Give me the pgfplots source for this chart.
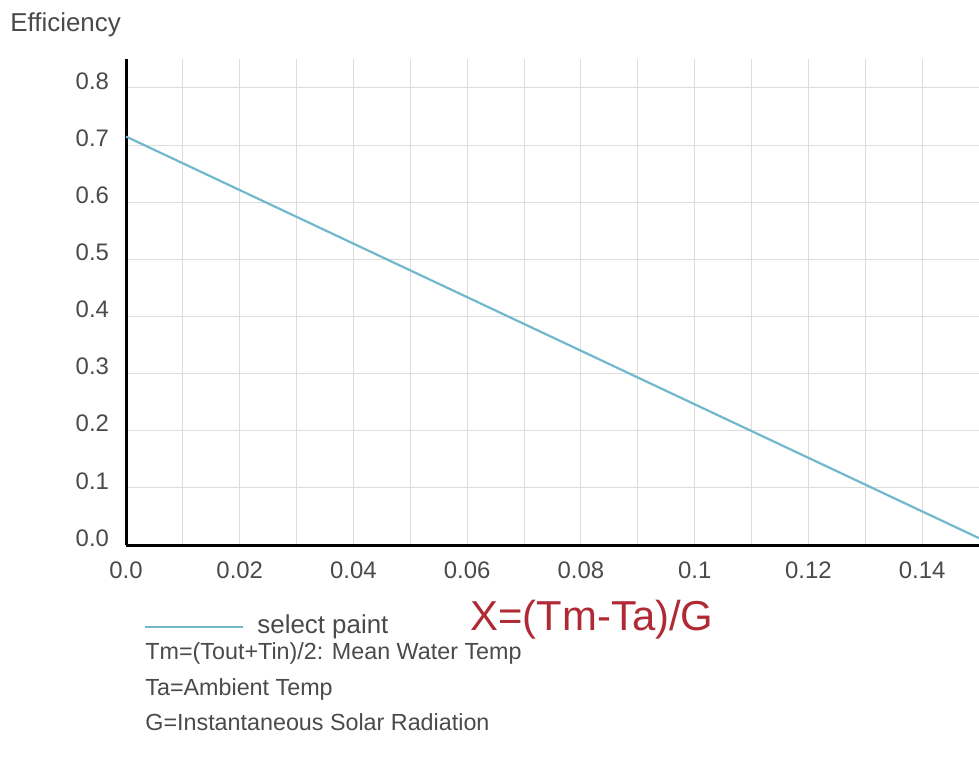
\documentclass[border=0pt]{standalone}
\usepackage{pgfplots}
\pgfplotsset{compat=1.18}
\usepackage{fontspec}
\setmainfont{Liberation Sans}
\definecolor{linec}{HTML}{72B8CC}
\definecolor{txt}{HTML}{4A4A4A}
\definecolor{redt}{HTML}{B02A35}
\definecolor{gridc}{HTML}{DDDDDD}
\begin{document}
\begin{tikzpicture}[x=1bp,y=1bp]
\path[use as bounding box] (-63,-107.5) rectangle (426.5,272.5);
\begin{axis}[
  at={(0,0)}, anchor=south west,
  scale only axis,
  width=426.5bp, height=242.8bp,
  xmin=0, xmax=0.15, ymin=0, ymax=0.85,
  axis x line*=bottom, axis y line*=left,
  axis line style={line width=1.5bp, black, -},
  xtick={0,0.02,0.04,0.06,0.08,0.1,0.12,0.14},
  xticklabels={0.0,0.02,0.04,0.06,0.08,0.1,0.12,0.14},
  minor xtick={0.01,0.03,0.05,0.07,0.09,0.11,0.13},
  ytick={0,0.1,0.2,0.3,0.4,0.5,0.6,0.7,0.8},
  yticklabels={0.0,0.1,0.2,0.3,0.4,0.5,0.6,0.7,0.8},
  grid=both,
  major grid style={gridc, line width=0.5bp},
  minor grid style={gridc, line width=0.5bp},
  tick style={draw=none},
  ticklabel style={font=\fontsize{12}{14}\selectfont, text=txt},
  yticklabel style={anchor=east, xshift=-5bp, yshift=3.5bp},
  xticklabel style={anchor=north, yshift=-5bp},
  /pgf/number format/assume math mode=true,
  clip=false,
]
\addplot[linec, line width=1.1bp] coordinates {(0,0.715) (0.15,0.012)};
\end{axis}
\node[anchor=west, text=txt, font=\fontsize{13}{15}\selectfont, inner sep=0pt] at (-58,260) {Efficiency};
\draw[linec, line width=1bp] (9.5,-41) -- (58.5,-41);
\node[anchor=west, text=txt, font=\fontsize{13}{15}\selectfont, inner sep=0pt] at (65.5,-41) {select paint};
\node[anchor=west, text=redt, font=\fontsize{21}{24}\selectfont, inner sep=0pt] at (172,-37.5) {X=(Tm-Ta)/G};
\node[anchor=west, text=txt, font=\fontsize{11.7}{14}\selectfont, inner sep=0pt] at (9.5,-54) {Tm=(Tout+Tin)/2: Mean Water Temp};
\node[anchor=west, text=txt, font=\fontsize{11.7}{14}\selectfont, inner sep=0pt] at (9.5,-72) {Ta=Ambient Temp};
\node[anchor=west, text=txt, font=\fontsize{11.7}{14}\selectfont, inner sep=0pt] at (9.5,-88.5) {G=Instantaneous Solar Radiation};
\end{tikzpicture}
\end{document}
